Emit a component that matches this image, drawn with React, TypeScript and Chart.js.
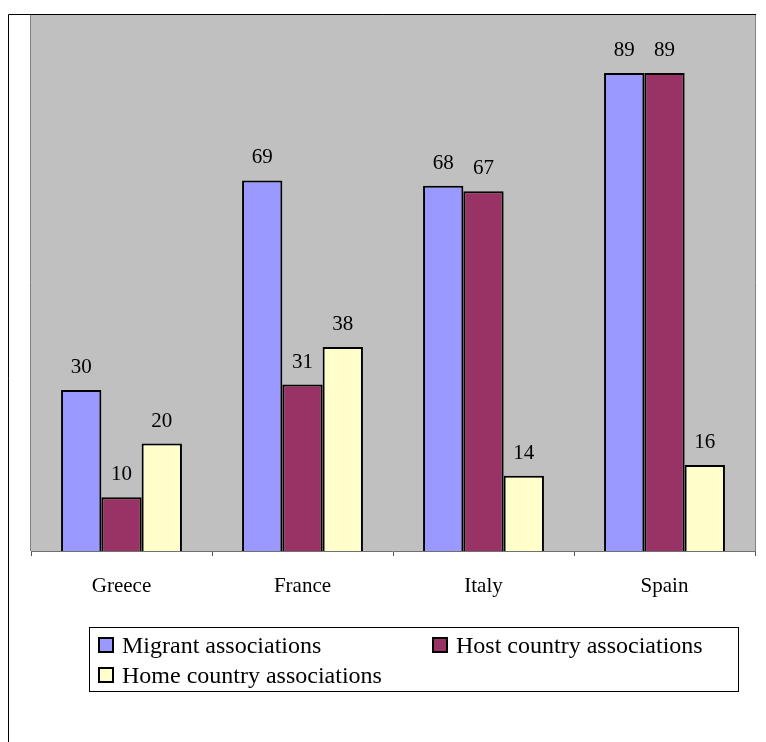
import React, { useEffect, useRef } from "react";
import { Chart, registerables } from "chart.js";

Chart.register(...registerables);

const countries = ["Greece", "France", "Italy", "Spain"];
const migrantAssociations = [30, 69, 68, 89];
const hostCountryAssociations = [10, 31, 67, 89];
const homeCountryAssociations = [20, 38, 14, 16];

const seriesNames = ["Migrant associations", "Host country associations", "Home country associations"];
const seriesColors = ["#9999FF", "#993366", "#FFFFCC"];

const SERIF = "'Times New Roman', 'Liberation Serif', serif";

// Grey plot background with its side borders, drawn under the bars
const plotBackground = {
  id: "plotBackground",
  beforeDatasetsDraw(chart: any) {
    const { ctx, chartArea: a } = chart;
    ctx.save();
    ctx.fillStyle = "#C0C0C0";
    ctx.fillRect(a.left, a.top, a.right - a.left, a.bottom - a.top);
    ctx.strokeStyle = "#808080";
    ctx.lineWidth = 1;
    ctx.beginPath();
    ctx.moveTo(a.left - 0.5, a.top);
    ctx.lineTo(a.left - 0.5, a.bottom);
    ctx.moveTo(a.right + 0.5, a.top);
    ctx.lineTo(a.right + 0.5, a.bottom);
    ctx.stroke();
    ctx.restore();
  },
};

// Value labels above each bar, the outer frame and the boxed legend
const overlay = {
  id: "overlay",
  afterDraw(chart: any) {
    const { ctx } = chart;
    ctx.save();

    // value labels
    ctx.fillStyle = "#000";
    ctx.font = `21px ${SERIF}`;
    ctx.textAlign = "center";
    ctx.textBaseline = "alphabetic";
    chart.data.datasets.forEach((ds: any, i: number) => {
      const meta = chart.getDatasetMeta(i);
      meta.data.forEach((bar: any, j: number) => {
        ctx.fillText(String(ds.data[j]), bar.x, bar.y - 17);
      });
    });

    // outer frame (left and top edges)
    ctx.strokeStyle = "#000";
    ctx.lineWidth = 1;
    ctx.beginPath();
    ctx.moveTo(8.5, 742);
    ctx.lineTo(8.5, 14.5);
    ctx.lineTo(756, 14.5);
    ctx.stroke();

    // legend box
    const bx = 89, by = 627, bw = 649, bh = 64;
    ctx.strokeStyle = "#000";
    ctx.strokeRect(bx + 0.5, by + 0.5, bw, bh);

    const slots = [
      { mx: 98, baseline: 653 },
      { mx: 432, baseline: 653 },
      { mx: 98, baseline: 683 },
    ];
    ctx.font = `24px ${SERIF}`;
    ctx.textAlign = "left";
    chart.data.datasets.forEach((ds: any, i: number) => {
      const s = slots[i];
      const top = s.baseline - 16;
      ctx.fillStyle = ds.backgroundColor;
      ctx.fillRect(s.mx + 1, top + 1, 14, 14);
      ctx.lineWidth = 2;
      ctx.strokeStyle = "#000";
      ctx.strokeRect(s.mx + 1, top + 1, 14, 14);
      ctx.fillStyle = "#000";
      ctx.fillText(ds.label, s.mx + 24, s.baseline);
    });

    ctx.restore();
  },
};

export default function App() {
  const canvasRef = useRef<HTMLCanvasElement | null>(null);

  useEffect(() => {
    if (!canvasRef.current) return;
    const values = [migrantAssociations, hostCountryAssociations, homeCountryAssociations];
    const chart = new Chart(canvasRef.current, {
      type: "bar",
      data: {
        labels: countries,
        datasets: values.map((data, i) => ({
          label: seriesNames[i],
          data,
          backgroundColor: seriesColors[i],
          borderColor: "#000000",
          borderWidth: 2,
          categoryPercentage: 0.668,
          barPercentage: 1,
        })),
      },
      options: {
        responsive: false,
        animation: false,
        devicePixelRatio: 1,
        layout: { padding: { left: 31, right: 11, top: 14, bottom: 0 } },
        plugins: {
          legend: { display: false },
          tooltip: { enabled: false },
        },
        scales: {
          y: { display: false, min: 0, max: 100 },
          x: {
            offset: true,
            border: { display: true, color: "#707070", width: 1 },
            grid: {
              offset: true,
              drawOnChartArea: false,
              drawTicks: true,
              tickLength: 5,
              tickWidth: 1,
              tickColor: "#505050",
              color: "#707070",
            },
            ticks: {
              color: "#000",
              padding: 18,
              font: { family: SERIF, size: 21 },
              maxRotation: 0,
            },
            afterFit(scale: any) {
              scale.height = 191;
            },
          },
        },
      },
      plugins: [plotBackground, overlay],
    });
    return () => chart.destroy();
  }, []);

  return (
    <div style={{ position: "absolute", left: 0, top: 0, width: 766, height: 742, background: "#fff" }}>
      <canvas ref={canvasRef} width={766} height={742} style={{ display: "block" }} />
    </div>
  );
}
